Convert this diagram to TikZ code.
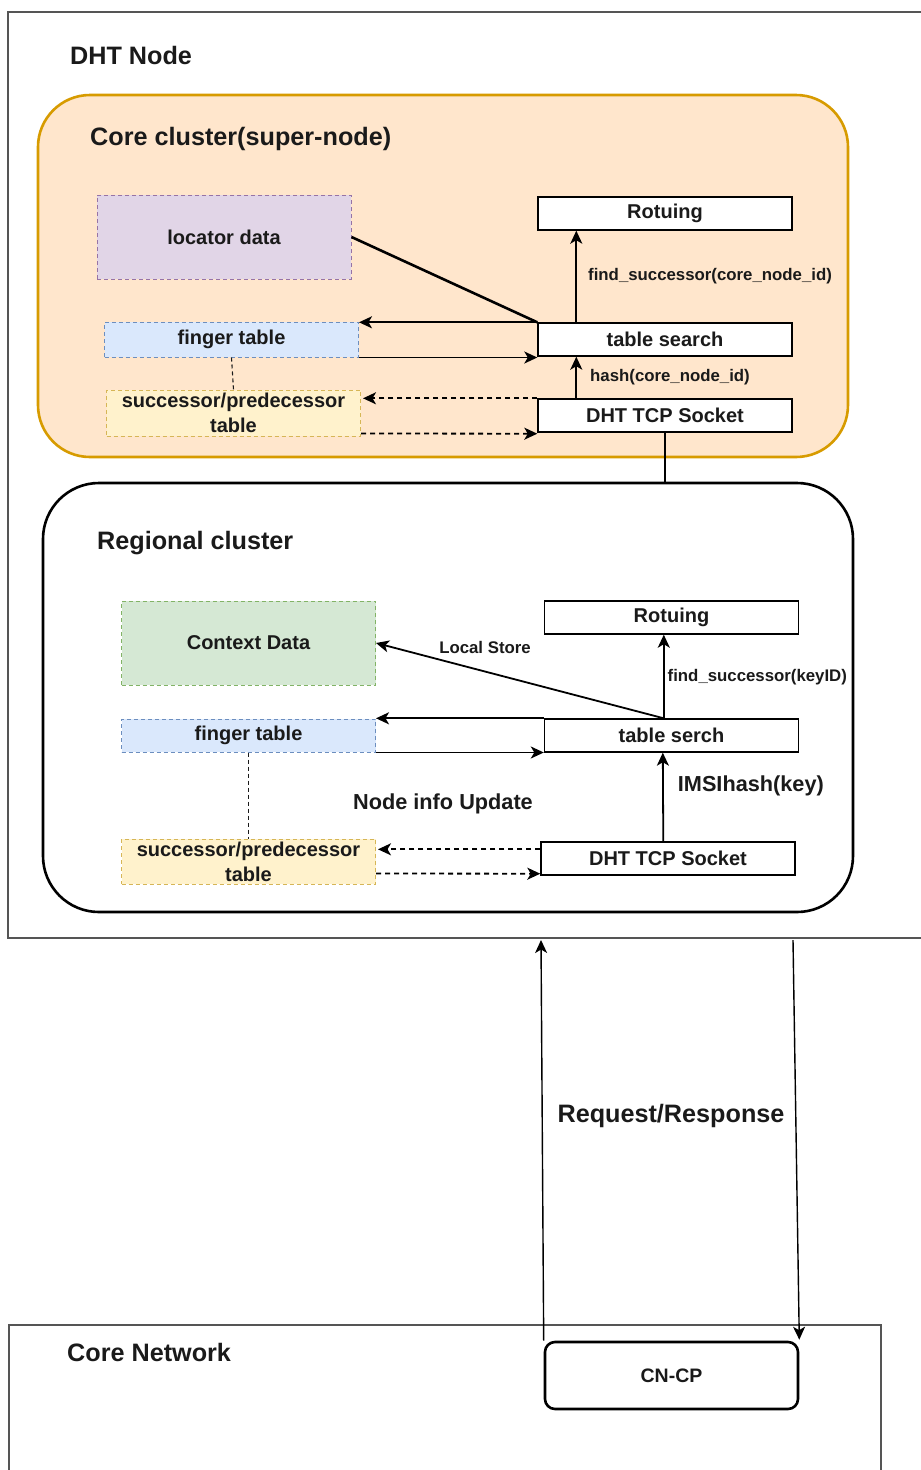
\documentclass[tikz,border=0pt]{standalone}
\usepackage{fontspec}
\setmainfont{Liberation Sans}
\usetikzlibrary{arrows.meta,calc}

\definecolor{peachfill}{HTML}{FFE6CC}
\definecolor{peachline}{HTML}{D79B00}
\definecolor{lilacfill}{HTML}{E1D5E7}
\definecolor{lilacline}{HTML}{9673A6}
\definecolor{bluefill}{HTML}{DAE8FC}
\definecolor{blueline}{HTML}{6C8EBF}
\definecolor{yellowfill}{HTML}{FFF2CC}
\definecolor{yellowline}{HTML}{D6B656}
\definecolor{greenfill}{HTML}{D5E8D4}
\definecolor{greenline}{HTML}{82B366}
\definecolor{framegray}{HTML}{555555}
\definecolor{ink}{HTML}{1A1A1A}

\tikzset{
  frame/.style={draw=framegray, line width=1.6pt},
  header/.style={anchor=west, inner sep=0, text=ink, font=\fontsize{25.2}{28}\selectfont\bfseries},
  plainbox/.style={draw=black, line width=1.4pt, fill=white, minimum width=254, minimum height=33,
    inner sep=0, text=ink, font=\fontsize{20}{22}\selectfont\bfseries},
  databox/.style={dashed, dash pattern=on 4pt off 3pt, line width=1pt, minimum width=254,
    inner sep=0, text=ink, align=center, font=\fontsize{20}{25}\selectfont\bfseries},
  smalllabel/.style={inner sep=0, text=ink, font=\fontsize{16.8}{19}\selectfont\bfseries},
  midlabel/.style={inner sep=0, text=ink, font=\fontsize{21.7}{24}\selectfont\bfseries},
  arr/.style={draw=black, line width=1.8pt, -{Stealth[length=13pt,width=12pt,inset=3.5pt]}},
  darr/.style={arr, dashed, dash pattern=on 5pt off 4pt},
  link/.style={draw=ink, line width=1.1pt, dashed, dash pattern=on 4pt off 3pt},
  heavy/.style={draw=black, line width=2.6pt},
}

\begin{document}
\begin{tikzpicture}[x=1pt,y=-1pt]
\useasboundingbox (0,0) rectangle (921,1470);

% ---------- DHT node frame ----------
\draw[frame] (921,12) -- (8,12) -- (8,938) -- (921,938);
\node[header] (dhtlabel) at (70,55) {DHT Node};
\coordinate (reqtop) at (541,940);
\coordinate (resptop) at (793,940);

% ---------- core cluster ----------
\node[draw=peachline, fill=peachfill, line width=2.6pt, rounded corners=52pt,
      minimum width=810, minimum height=362, inner sep=0] (core) at (443,276) {};
\node[header] (corelabel) at (90,139) {Core cluster(super-node)};

\node[databox, draw=lilacline, fill=lilacfill, minimum height=84] (loc1) at (224,237) {locator data};
\node[databox, draw=blueline, fill=bluefill, minimum height=35] (ft1) at (231.5,339.5) {finger table};
\node[databox, draw=yellowline, fill=yellowfill, minimum height=46] (sp1) at (233.5,413) {successor/predecessor\\table};

\node[plainbox] (rt1) at (665,213.5) {Rotuing};
\node[plainbox] (ts1) at (665,339.5) {table search};
\node[plainbox] (sock1) at (665,415.5) {DHT TCP Socket};

\draw[link] (ft1.south) -- (sp1.north);
\draw[heavy] (loc1.east) -- (ts1.north west);
\draw[arr] (ts1.north west) -- (ts1.north west -| ft1.east);
\draw[arr] (ft1.south east) -- (ft1.south east -| ts1.west);
\draw[darr] (sock1.north west) -- ($(sock1.north west -| sp1.east)+(2,0)$);
\draw[darr] ($(sp1.south east)+(0,-3)$) -- ($(sock1.south west)+(0,1)$);
\draw[arr] ($(ts1.north west)+(39,0)$) -- ($(rt1.south west)+(39,0)$)
  node[smalllabel, anchor=west, pos=0.5, xshift=11pt] (fs1) {find\_successor(core\_node\_id)};
\draw[arr] ($(sock1.north west)+(39,0)$) -- ($(ts1.south west)+(39,0)$)
  node[smalllabel, anchor=west, pos=0.5, xshift=13pt] (hash1) {hash(core\_node\_id)};

% ---------- regional cluster ----------
\node[draw=black, fill=white, line width=2.6pt, rounded corners=56pt,
      minimum width=810, minimum height=429, inner sep=0] (reg) at (448,697.5) {};
\node[header] (reglabel) at (97,543) {Regional cluster};
\draw[heavy] (sock1.south) -- (sock1.south |- reg.north);

\node[databox, draw=greenline, fill=greenfill, minimum height=84] (cd) at (248.5,643) {Context Data};
\node[databox, draw=blueline, fill=bluefill, minimum height=33] (ft2) at (248.5,735.5) {finger table};
\node[databox, draw=yellowline, fill=yellowfill, minimum height=45] (sp2) at (248.5,861.5) {successor/predecessor\\table};

\node[plainbox] (rt2) at (671.5,617.5) {Rotuing};
\node[plainbox] (ts2) at (671.5,735.5) {table serch};
\node[plainbox] (sock2) at (668,858.5) {DHT TCP Socket};

\draw[link] (ft2.south) -- (sp2.north);
\draw[arr] ($(ts2.north west)+(120,0)$) -- (cd.east);
\node[smalllabel] (lstore) at (485,647) {Local Store};
\draw[arr] ($(ts2.north west)+(120,0)$) -- ($(rt2.south west)+(120,0)$)
  node[smalllabel, anchor=west, pos=0.5, xshift=3pt, yshift=-1pt] (fs2) {find\_successor(keyID)};
\draw[arr] (ts2.north west) -- (ts2.north west -| ft2.east);
\draw[arr] (ft2.south east) -- (ft2.south east -| ts2.west);
\draw[arr] ($(sock2.north west)+(123,0)$) -- ($(ts2.south west)+(119,0)$)
  node[midlabel, anchor=west, pos=0.62, xshift=14pt] (imsi) {IMSIhash(key)};
\node[midlabel] (nodeinfo) at (443,804) {Node info Update};
\draw[darr] ($(sock2.north west)+(0,8)$) -- ($(sock2.north west -| sp2.east)+(2,8)$);
\draw[darr] ($(sp2.south east)+(0,-11)$) -- ($(sock2.south west)+(0,-2)$);

% ---------- core network ----------
\draw[frame] (9,1475) -- (9,1325) -- (881,1325) -- (881,1475);
\node[header] (cnlabel) at (67,1352) {Core Network};
\node[draw=black, fill=white, line width=2.6pt, rounded corners=10pt, minimum width=253,
      minimum height=67, inner sep=0, text=ink, font=\fontsize{19.5}{22}\selectfont\bfseries]
      (cncp) at (671.5,1375.5) {CN-CP};

\draw[arr, line width=1.4pt] (cncp.north west) -- (reqtop);
\draw[arr, line width=1.4pt] (resptop) -- ($(cncp.north east)+(0,-1)$);
\node[midlabel, font=\fontsize{25.2}{28}\selectfont\bfseries] (reqresp) at (671,1116) {Request/Response};
\end{tikzpicture}
\end{document}
